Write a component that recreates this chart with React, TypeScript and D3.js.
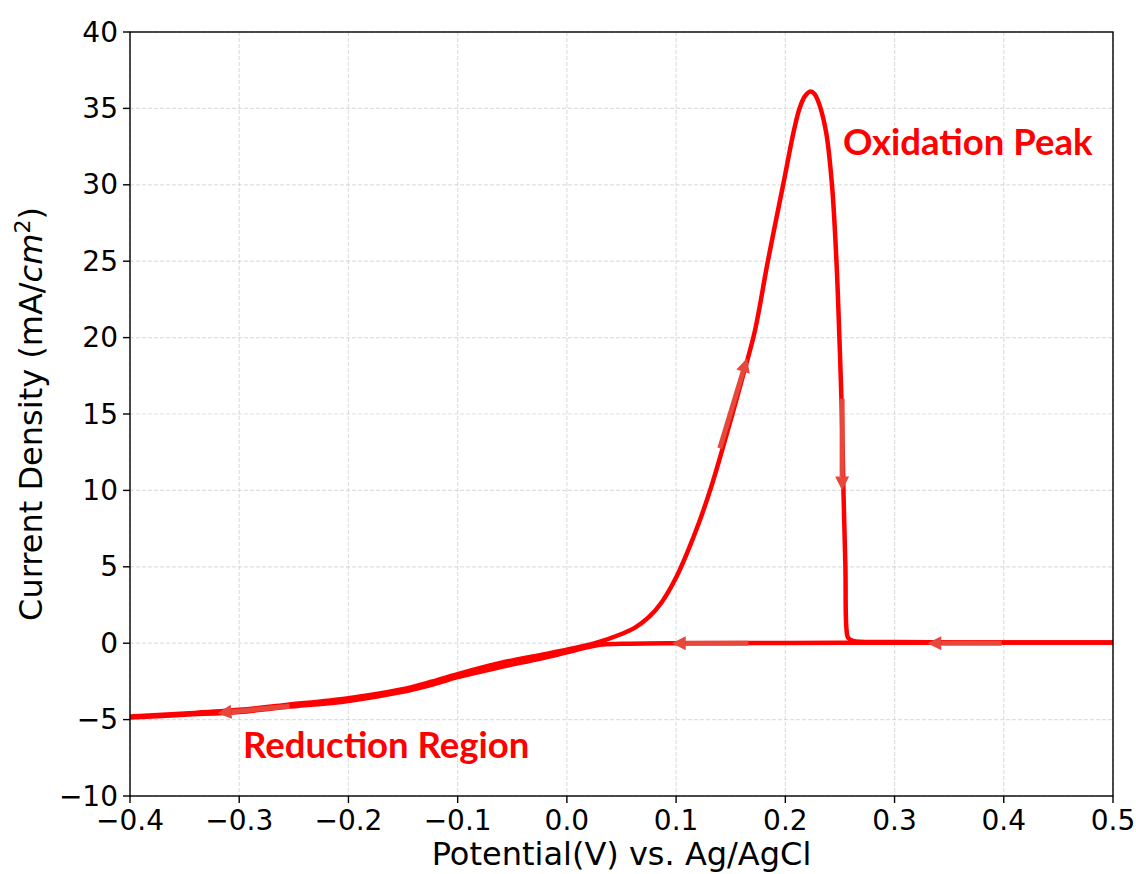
import React from "react";
import * as d3 from "d3";

// Forward (anodic) scan: potential (V) and current density (mA/cm^2)
const forwardV = [-0.4, -0.35, -0.3, -0.257, -0.2, -0.153, -0.123, -0.1, -0.06, -0.025, 0.0, 0.025, 0.05, 0.062, 0.075, 0.087, 0.1, 0.11, 0.121, 0.132, 0.142, 0.152, 0.162, 0.172, 0.184, 0.198, 0.208, 0.213, 0.218, 0.2225, 0.226, 0.2299, 0.2372, 0.2427, 0.2468, 0.2495, 0.2518, 0.2532, 0.255, 0.2559, 0.2575, 0.262, 0.3, 0.4, 0.5];
const forwardI = [-4.8, -4.6, -4.36, -4.04, -3.6, -3.05, -2.5, -2.02, -1.28, -0.78, -0.42, -0.02, 0.6, 1.0, 1.7, 2.7, 4.3, 5.9, 7.9, 10.2, 12.6, 15.1, 17.7, 20.4, 25.0, 30.0, 33.6, 35.0, 35.8, 36.1, 36.0, 35.5, 33.5, 30.0, 25.0, 20.0, 15.0, 10.0, 5.0, 1.0, 0.35, 0.15, 0.08, 0.05, 0.05];

// Reverse (cathodic) scan
const reverseV = [0.5, 0.4, 0.3, 0.2, 0.1, 0.05, 0.03, 0.0, -0.025, -0.06, -0.1, -0.123, -0.153, -0.2, -0.257, -0.3, -0.35, -0.4];
const reverseI = [0.04, 0.04, 0.03, 0.02, 0.0, -0.04, -0.1, -0.6, -1.02, -1.55, -2.22, -2.7, -3.22, -3.78, -4.18, -4.5, -4.68, -4.87];

// Direction arrows: [startV, startI, endV, endI]
const arrowStartV = [-0.254, 0.166, 0.398, 0.14, 0.252];
const arrowStartI = [-4.12, 0.0, 0.0, 12.76, 16.0];
const arrowEndV = [-0.32, 0.096, 0.33, 0.165, 0.252];
const arrowEndI = [-4.58, 0.0, 0.0, 18.65, 10.0];

// Ticks
const xTicks = [-0.4, -0.3, -0.2, -0.1, 0.0, 0.1, 0.2, 0.3, 0.4, 0.5];
const xTickLabels = ["\u22120.4", "\u22120.3", "\u22120.2", "\u22120.1", "0.0", "0.1", "0.2", "0.3", "0.4", "0.5"];
const yTicks = [-10, -5, 0, 5, 10, 15, 20, 25, 30, 35, 40];
const yTickLabels = ["\u221210", "\u22125", "0", "5", "10", "15", "20", "25", "30", "35", "40"];

const W = 1136;
const H = 874;
const M = { left: 130, right: 1113, top: 32, bottom: 796 };

export default function App() {
  const x = d3.scaleLinear().domain([-0.4, 0.5]).range([M.left, M.right]);
  const y = d3.scaleLinear().domain([-10, 40]).range([M.bottom, M.top]);

  const line = d3
    .line<[number, number]>()
    .x((d) => x(d[0]))
    .y((d) => y(d[1]))
    .curve(d3.curveCatmullRom.alpha(0.5));

  const fwd: [number, number][] = forwardV.map((v, i) => [v, forwardI[i]]);
  const rev: [number, number][] = reverseV.map((v, i) => [v, reverseI[i]]);

  const tickFont = "DejaVu Sans, sans-serif";
  const arrowColor = "#e8473b";

  const arrows = arrowStartV.map((sv, i) => {
    const x1 = x(sv), y1 = y(arrowStartI[i]);
    const x2 = x(arrowEndV[i]), y2 = y(arrowEndI[i]);
    const dx = x2 - x1, dy = y2 - y1;
    const len = Math.hypot(dx, dy);
    const ux = dx / len, uy = dy / len;
    const headL = 14, headW = 7;
    const bx = x2 - ux * headL, by = y2 - uy * headL;
    const px = -uy, py = ux;
    const pts = `${x2},${y2} ${bx + px * headW},${by + py * headW} ${bx - px * headW},${by - py * headW}`;
    return (
      <g key={i}>
        <line x1={x1} y1={y1} x2={bx} y2={by} stroke={arrowColor} strokeWidth={5} />
        <polygon points={pts} fill={arrowColor} />
      </g>
    );
  });

  return (
    <svg width={W} height={H} style={{ position: "absolute", left: 0, top: 0, background: "#fff" }}>
      <defs>
        <clipPath id="plotclip">
          <rect x={M.left} y={M.top} width={M.right - M.left} height={M.bottom - M.top} />
        </clipPath>
      </defs>
      <rect x={0} y={0} width={W} height={H} fill="#fff" />
      {/* grid */}
      <g stroke="#b0b0b0" strokeOpacity={0.4} strokeWidth={1.2} strokeDasharray="4,2">
        {xTicks.map((t) => (
          <line key={"gx" + t} x1={x(t)} x2={x(t)} y1={M.top} y2={M.bottom} />
        ))}
        {yTicks.map((t) => (
          <line key={"gy" + t} x1={M.left} x2={M.right} y1={y(t)} y2={y(t)} />
        ))}
      </g>
      {/* curves */}
      <g clipPath="url(#plotclip)" fill="none" stroke="#ff0000" strokeWidth={4.5} strokeLinejoin="round" strokeLinecap="round">
        <path d={line(rev) || ""} />
        <path d={line(fwd) || ""} />
      </g>
      {/* arrows */}
      <g>{arrows}</g>
      {/* spines */}
      <rect x={M.left} y={M.top} width={M.right - M.left} height={M.bottom - M.top} fill="none" stroke="#000" strokeWidth={1.4} />
      {/* ticks */}
      <g fontFamily={tickFont} fontSize={28} fill="#000">
        {xTicks.map((t, i) => (
          <g key={"xt" + t}>
            <line x1={x(t)} x2={x(t)} y1={M.bottom} y2={M.bottom + 7} stroke="#000" strokeWidth={1.4} />
            <text x={x(t)} y={M.bottom + 34} textAnchor="middle">{xTickLabels[i]}</text>
          </g>
        ))}
        {yTicks.map((t, i) => (
          <g key={"yt" + t}>
            <line x1={M.left - 7} x2={M.left} y1={y(t)} y2={y(t)} stroke="#000" strokeWidth={1.4} />
            <text x={M.left - 12} y={y(t) + 9.5} textAnchor="end">{yTickLabels[i]}</text>
          </g>
        ))}
      </g>
      {/* axis labels */}
      <text x={(M.left + M.right) / 2} y={865} textAnchor="middle" fontFamily={tickFont} fontSize={32} fill="#000">
        Potential(V) vs. Ag/AgCl
      </text>
      <text transform={`translate(42, ${(M.top + M.bottom) / 2}) rotate(-90)`} textAnchor="middle" fontFamily={tickFont} fontSize={32} fill="#000">
        Current Density (mA/<tspan fontStyle="italic">cm</tspan>
        <tspan dy={-12} fontSize={22}>2</tspan>
        <tspan dy={12}>)</tspan>
      </text>
      {/* annotations */}
      <text x={843} y={155} fontFamily="Lato, sans-serif" fontWeight={700} fontSize={36.5} fill="#ff0000">
        Oxidation Peak
      </text>
      <text x={243} y={758} fontFamily="Lato, sans-serif" fontWeight={700} fontSize={36.5} fill="#ff0000">
        Reduction Region
      </text>
    </svg>
  );
}
